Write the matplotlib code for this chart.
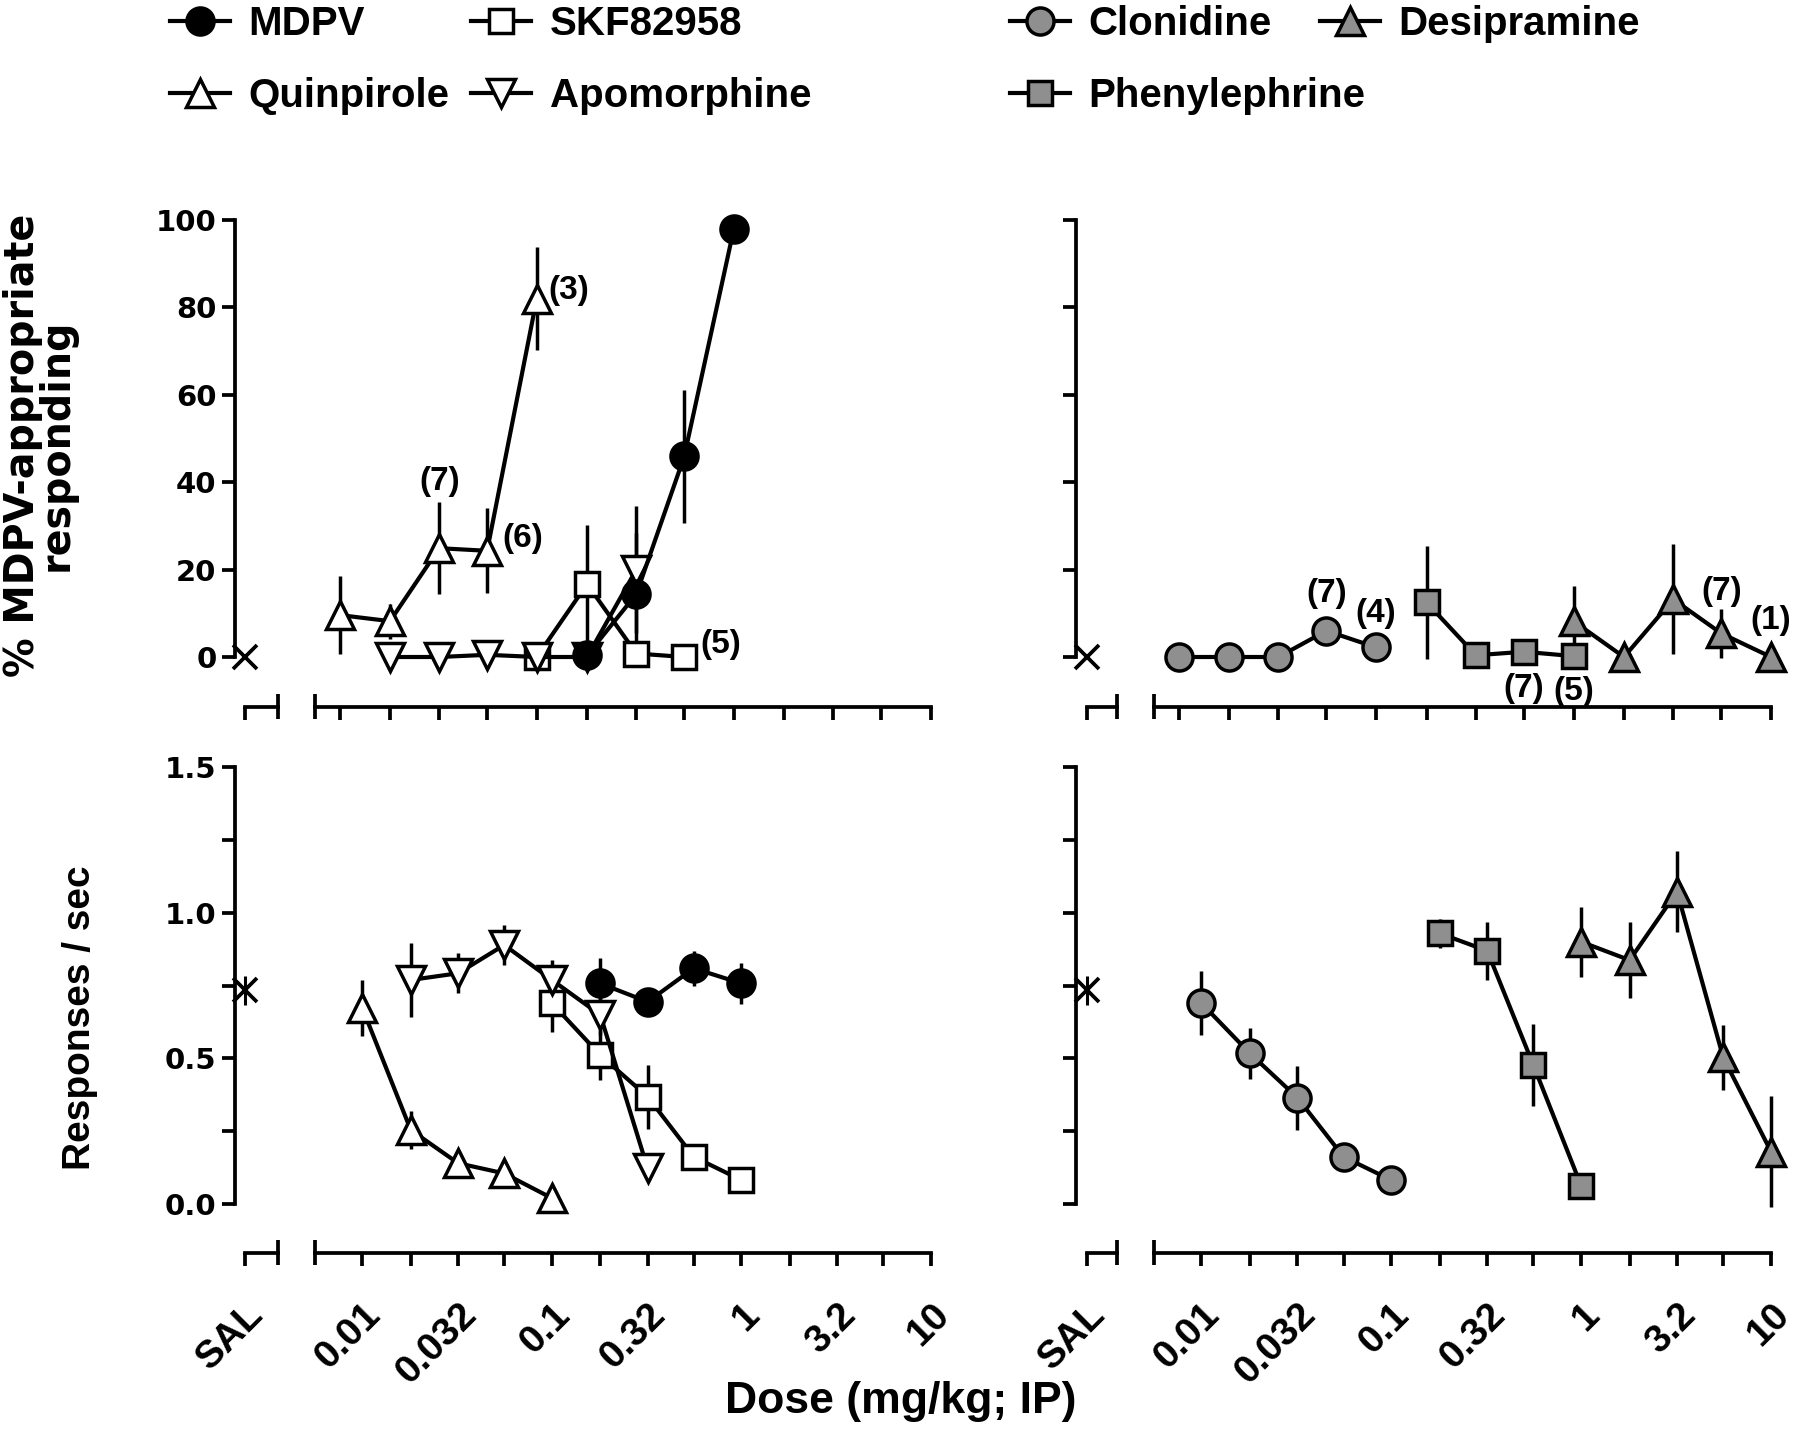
import numpy as np
import matplotlib.pyplot as plt
from matplotlib.lines import Line2D

W, H = 1800, 1442
plt.rcParams['font.family'] = ['Liberation Sans', 'DejaVu Sans']
plt.rcParams['font.weight'] = 'bold'

GRAY = '#8f8f8f'
LW = 2.7

# dose axis
tick_doses = [0.01, 0.018, 0.032, 0.056, 0.1, 0.18, 0.32, 0.56, 1.0, 1.8, 3.2, 5.6, 10.0]
tick_labels = ['0.01', '', '0.032', '', '0.1', '', '0.32', '', '1', '', '3.2', '', '10']

# left column drugs
mdpv_dose = [0.18, 0.32, 0.56, 1.0]
mdpv_pct = [0.4, 14.4, 45.9, 98.0]
mdpv_pct_err = [0.8, 14.0, 15.2, 0.0]
mdpv_rate = [0.757, 0.694, 0.809, 0.757]
mdpv_rate_err = [0.086, 0.02, 0.06, 0.069]

skf_pct_dose = [0.1, 0.18, 0.32, 0.56]
skf_pct = [0.0, 16.7, 0.8, 0.0]
skf_pct_err = [0.0, 13.6, 1.5, 0.0]
skf_rate_dose = [0.1, 0.18, 0.32, 0.56, 1.0]
skf_rate = [0.689, 0.511, 0.368, 0.162, 0.082]
skf_rate_err = [0.10, 0.086, 0.11, 0.02, 0.02]

quin_dose = [0.01, 0.018, 0.032, 0.056, 0.1]
quin_pct = [9.6, 8.2, 24.9, 24.3, 82.0]
quin_pct_err = [9.0, 4.0, 10.5, 9.7, 11.8]
quin_rate = [0.672, 0.254, 0.14, 0.105, 0.02]
quin_rate_err = [0.097, 0.066, 0.02, 0.02, 0.01]

apo_dose = [0.018, 0.032, 0.056, 0.1, 0.18, 0.32]
apo_pct = [0.0, 0.0, 0.5, 0.0, 0.0, 20.0]
apo_pct_err = [0.0, 0.0, 0.0, 0.0, 0.0, 14.6]
apo_rate = [0.769, 0.792, 0.889, 0.769, 0.649, 0.122]
apo_rate_err = [0.126, 0.069, 0.069, 0.069, 0.07, 0.0]

# right column drugs
clon_dose = [0.01, 0.018, 0.032, 0.056, 0.1]
clon_pct = [0.0, 0.0, 0.0, 6.0, 2.2]
clon_pct_err = [0.0, 0.0, 0.0, 0.0, 0.0]
clon_rate = [0.689, 0.517, 0.365, 0.162, 0.082]
clon_rate_err = [0.11, 0.088, 0.11, 0.0, 0.0]

phen_dose = [0.18, 0.32, 0.56, 1.0]
phen_pct = [12.5, 0.4, 1.2, 0.2]
phen_pct_err = [13.0, 0.0, 0.0, 0.0]
phen_rate = [0.929, 0.869, 0.477, 0.063]
phen_rate_err = [0.05, 0.10, 0.14, 0.0]

desi_dose = [1.0, 1.8, 3.2, 5.6, 10.0]
desi_pct = [8.2, 0.0, 13.2, 5.4, 0.0]
desi_pct_err = [8.0, 0.0, 12.6, 5.6, 0.0]
desi_rate = [0.90, 0.837, 1.072, 0.503, 0.18]
desi_rate_err = [0.12, 0.13, 0.14, 0.11, 0.19]

sal_pct = 0.0
sal_rate = 0.734
sal_rate_err = 0.05

# n labels: (text, dose, value, dx px, dy px)
n_left = [('(3)', 0.1, 82.0, 32, 8), ('(7)', 0.032, 24.9, 0, 67),
          ('(6)', 0.056, 24.3, 36, 12), ('(5)', 0.56, 0.0, 37, 12)]
n_right = [('(7)', 0.056, 6.0, 0, 37), ('(4)', 0.1, 2.2, 0, 34),
           ('(7)', 0.56, 1.2, 0, -37), ('(5)', 1.0, 0.2, 0, -35),
           ('(7)', 5.6, 5.4, 0, 42), ('(1)', 10.0, 0.0, 0, 37)]

STY = {
    'MDPV': dict(marker='o', mfc='black', ms=19.5),
    'SKF82958': dict(marker='s', mfc='white', ms=17.5),
    'Quinpirole': dict(marker='^', mfc='white', ms=19.5),
    'Apomorphine': dict(marker='v', mfc='white', ms=19.5),
    'Clonidine': dict(marker='o', mfc=GRAY, ms=19.5),
    'Desipramine': dict(marker='^', mfc=GRAY, ms=19.5),
    'Phenylephrine': dict(marker='s', mfc=GRAY, ms=17.5),
}

LEFT = dict(yx=235, salx=245, sal_end=278, m0=315, m1=931)
RIGHT = dict(yx=1076, salx=1087, sal_end=1117, m0=1154, m1=1771)
TOP = dict(ytop=220, ybot=657, axis=707, xmin=10 ** -2.125, ylim=(0, 100))
BOT = dict(ytop=767, ybot=1204, axis=1253, xmin=10 ** -2.25, ylim=(0, 1.5))

fig = plt.figure(figsize=(W / 100, H / 100), dpi=100)


def box(x0, x1, y0, y1):
    return [x0 / W, 1 - y1 / H, (x1 - x0) / W, (y1 - y0) / H]


def vbar(x, y):
    fig.add_artist(Line2D([x / W, x / W], [1 - (y - 13) / H, 1 - (y + 12) / H],
                          transform=fig.transFigure, color='black', lw=LW,
                          solid_capstyle='butt'))


def style_xlabels(ax):
    for lb in ax.get_xticklabels():
        lb.set_rotation(45)
        lb.set_ha('right')
        lb.set_va('top')
        lb.set_rotation_mode('anchor')
        lb.set_fontsize(28)


def panel(col, row, is_bottom, is_left):
    off = (row['axis'] - row['ybot']) * 0.72
    sal = fig.add_axes(box(col['yx'], col['sal_end'], row['ytop'], row['ybot']))
    sal.set_xlim(col['yx'] - col['salx'], col['sal_end'] - col['salx'])
    sal.set_ylim(*row['ylim'])
    for s in ['top', 'right']:
        sal.spines[s].set_visible(False)
    sal.spines['left'].set_bounds(*row['ylim'])
    sal.spines['bottom'].set_position(('outward', off))
    sal.spines['bottom'].set_bounds(0, col['sal_end'] - col['salx'])
    for s in ['left', 'bottom']:
        sal.spines[s].set_linewidth(LW)
    sal.set_xticks([0])
    sal.set_xticklabels(['SAL'] if is_bottom else [''])
    sal.tick_params(width=LW, length=9.4, pad=4)
    sal.tick_params(axis='x', pad=22)
    sal.patch.set_visible(False)

    if row is TOP:
        sal.set_yticks([0, 20, 40, 60, 80, 100])
        sal.set_yticklabels(['0', '20', '40', '60', '80', '100'] if is_left else [''] * 6)
    else:
        sal.set_yticks([0, 0.25, 0.5, 0.75, 1.0, 1.25, 1.5])
        sal.set_yticklabels(['0.0', '', '0.5', '', '1.0', '', '1.5'] if is_left else [''] * 7)
    for lb in sal.get_yticklabels():
        lb.set_family('DejaVu Sans')
        lb.set_fontsize(21)
        lb.set_fontweight('bold')
    style_xlabels(sal)

    ax = fig.add_axes(box(col['m0'], col['m1'], row['ytop'], row['ybot']))
    ax.set_xscale('log')
    ax.set_xlim(row['xmin'], 10)
    ax.set_ylim(*row['ylim'])
    for s in ['top', 'right', 'left']:
        ax.spines[s].set_visible(False)
    ax.spines['bottom'].set_position(('outward', off))
    ax.spines['bottom'].set_linewidth(LW)
    ax.set_yticks([])
    ax.xaxis.set_minor_locator(plt.NullLocator())
    ax.set_xticks(tick_doses)
    ax.set_xticklabels(tick_labels if is_bottom else [''] * len(tick_doses))
    ax.tick_params(width=LW, length=9.4, pad=22)
    style_xlabels(ax)
    ax.patch.set_visible(False)

    vbar(col['sal_end'], row['axis'])
    vbar(col['m0'], row['axis'])
    return sal, ax


def series(ax, name, x, y, err):
    ax.errorbar(x, y, yerr=err, fmt='none', ecolor='black', elinewidth=2.5,
                capsize=0, zorder=2, clip_on=False)
    st = STY[name]
    ax.plot(x, y, color='black', lw=3, marker=st['marker'], ms=st['ms'],
            mfc=st['mfc'], mec='black', mew=2.5, zorder=3, clip_on=False)


def sal_point(ax, y, err):
    if err:
        ax.errorbar([0], [y], yerr=[err], fmt='none', ecolor='black',
                    elinewidth=2.2, capsize=0, clip_on=False)
    ax.plot([0], [y], marker='x', ms=17, mew=2.7, color='black', clip_on=False)


def n_labels(ax, items):
    for txt, d, v, dx, dy in items:
        ax.annotate(txt, (d, v), xytext=(dx, dy), textcoords='offset pixels',
                    ha='center', va='center', fontsize=24, fontweight='bold',
                    annotation_clip=False)


# top left
s, a = panel(LEFT, TOP, False, True)
sal_point(s, sal_pct, 0)
series(a, 'SKF82958', skf_pct_dose, skf_pct, skf_pct_err)
series(a, 'Quinpirole', quin_dose, quin_pct, quin_pct_err)
series(a, 'Apomorphine', apo_dose, apo_pct, apo_pct_err)
series(a, 'MDPV', mdpv_dose, mdpv_pct, mdpv_pct_err)
n_labels(a, n_left)

# bottom left
s, a = panel(LEFT, BOT, True, True)
sal_point(s, sal_rate, sal_rate_err)
series(a, 'SKF82958', skf_rate_dose, skf_rate, skf_rate_err)
series(a, 'Quinpirole', quin_dose, quin_rate, quin_rate_err)
series(a, 'Apomorphine', apo_dose, apo_rate, apo_rate_err)
series(a, 'MDPV', mdpv_dose, mdpv_rate, mdpv_rate_err)

# top right
s, a = panel(RIGHT, TOP, False, False)
sal_point(s, sal_pct, 0)
series(a, 'Clonidine', clon_dose, clon_pct, clon_pct_err)
series(a, 'Phenylephrine', phen_dose, phen_pct, phen_pct_err)
series(a, 'Desipramine', desi_dose, desi_pct, desi_pct_err)
n_labels(a, n_right)

# bottom right
s, a = panel(RIGHT, BOT, True, False)
sal_point(s, sal_rate, sal_rate_err)
series(a, 'Clonidine', clon_dose, clon_rate, clon_rate_err)
series(a, 'Phenylephrine', phen_dose, phen_rate, phen_rate_err)
series(a, 'Desipramine', desi_dose, desi_rate, desi_rate_err)


def leg_handle(name):
    st = STY[name]
    return Line2D([], [], color='black', lw=3, marker=st['marker'], ms=st['ms'],
                  mfc=st['mfc'], mec='black', mew=2.5)


def legend(names, x, y):
    lg = fig.legend([leg_handle(n) for n in names], names, loc='upper left',
                    bbox_to_anchor=(x / W, 1 - y / H), frameon=False,
                    fontsize=29, handlelength=1.5, handletextpad=0.45,
                    labelspacing=0.85, borderpad=0, borderaxespad=0)
    for t in lg.get_texts():
        t.set_fontweight('bold')


legend(['MDPV', 'Quinpirole'], 170, 5)
legend(['SKF82958', 'Apomorphine'], 471, 5)
legend(['Clonidine', 'Phenylephrine'], 1010, 5)
legend(['Desipramine'], 1320, 5)

fig.text(40 / W, 1 - 445 / H, '% MDPV-appropriate\nresponding', rotation=90,
         ha='center', va='center', multialignment='center', fontsize=28.5,
         family='DejaVu Sans', fontweight='bold', linespacing=0.8)
fig.text(80 / W, 1 - 1018 / H, 'Responses / sec', rotation=90,
         ha='center', va='center', fontsize=28, fontweight='bold')
fig.text(901 / W, 1 - 1402 / H, 'Dose (mg/kg; IP)', ha='center', va='center',
         fontsize=32, fontweight='bold')

fig.savefig('out.png', dpi=100)
